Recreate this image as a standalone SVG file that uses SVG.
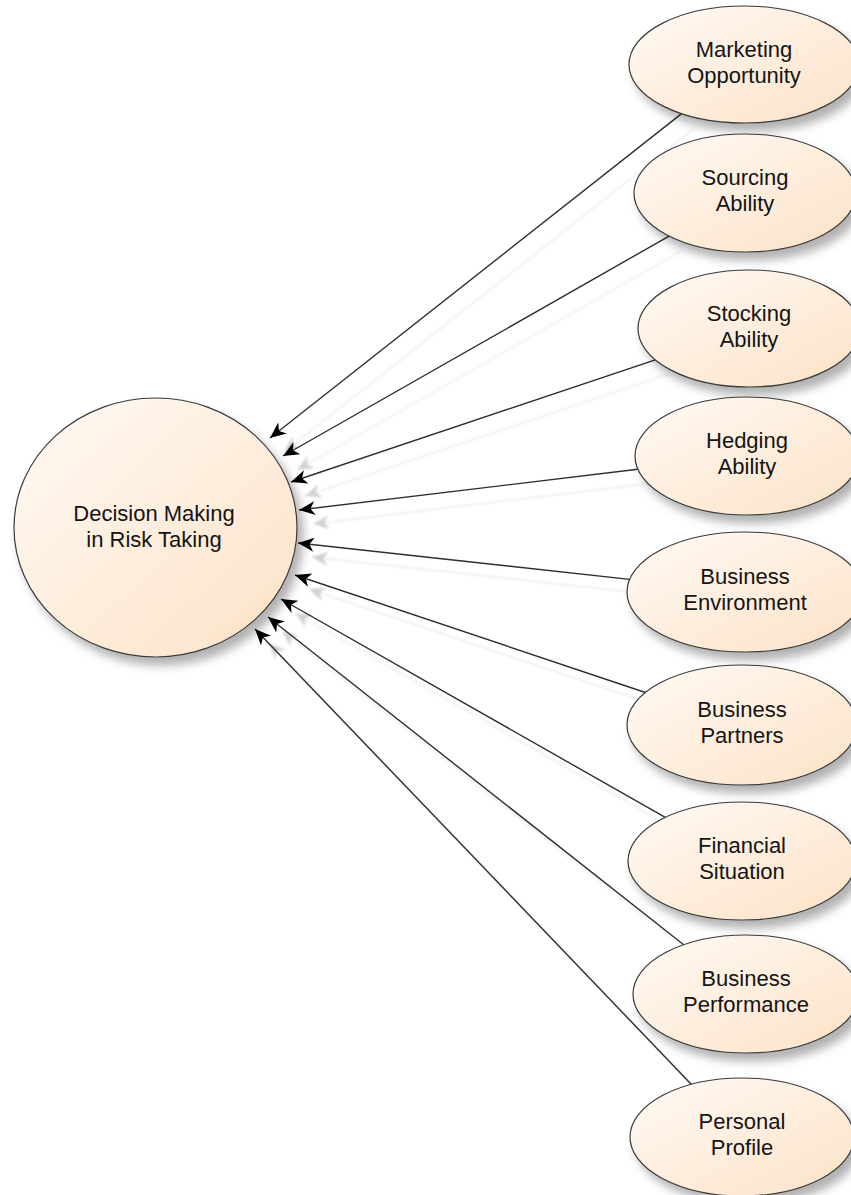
<svg xmlns="http://www.w3.org/2000/svg" width="851" height="1195" viewBox="0 0 851 1195">
  <style>
    .node { fill: url(#nodeFill); stroke: #3a3a3a; stroke-width: 1.2; filter: url(#nodeShadow); }
    .label { font-family: "Liberation Sans", Arial, sans-serif; font-size: 22px; fill: #141414; text-anchor: middle; }
    .edge { stroke: #2e2e2e; stroke-width: 1.4; fill: none; marker-end: url(#arrow); }
    .edge-shadow { stroke: #eaeaea; stroke-width: 1.4; fill: none; marker-end: url(#arrowShadow); }
  </style>
  <defs>
    <linearGradient id="nodeFill" x1="0" y1="0" x2="1" y2="1">
      <stop offset="0" stop-color="#fffaf5"/>
      <stop offset="1" stop-color="#fde2c6"/>
    </linearGradient>
    <filter id="nodeShadow" x="-20%" y="-20%" width="150%" height="150%">
      <feDropShadow dx="6" dy="8" stdDeviation="5" flood-color="#000000" flood-opacity="0.3"/>
    </filter>
    <filter id="soft" x="-10%" y="-10%" width="120%" height="120%">
      <feGaussianBlur stdDeviation="1"/>
    </filter>
    <marker id="arrow" markerUnits="userSpaceOnUse" markerWidth="18" markerHeight="16" viewBox="0 -8 17 16" refX="16" refY="0" orient="auto">
      <path d="M16,0 L0,-7 L4.5,0 L0,7 Z" fill="#000000"/>
    </marker>
    <marker id="arrowShadow" markerUnits="userSpaceOnUse" markerWidth="18" markerHeight="16" viewBox="0 -8 17 16" refX="16" refY="0" orient="auto">
      <path d="M16,0 L0,-7 L4.5,0 L0,7 Z" fill="#d2d2d2"/>
    </marker>
  </defs>

  <!-- connector shadows, drawn under everything -->
  <g id="connector-shadows" transform="translate(14,14)" filter="url(#soft)">
    <line class="edge-shadow" x1="681.6" y1="113.6" x2="270" y2="438"/>
    <line class="edge-shadow" x1="669.1" y1="236.1" x2="283" y2="456"/>
    <line class="edge-shadow" x1="655.3" y1="359.9" x2="291" y2="482"/>
    <line class="edge-shadow" x1="637.8" y1="469.2" x2="299" y2="510"/>
    <line class="edge-shadow" x1="629.6" y1="579.4" x2="298" y2="543"/>
    <line class="edge-shadow" x1="645.4" y1="692.5" x2="295" y2="575"/>
    <line class="edge-shadow" x1="665.3" y1="817.4" x2="281" y2="599"/>
    <line class="edge-shadow" x1="683.7" y1="944.8" x2="268" y2="617"/>
    <line class="edge-shadow" x1="691.4" y1="1084.4" x2="255" y2="629"/>
  </g>

  <!-- connectors: each factor points to the central decision node -->
  <g id="connectors">
    <line class="edge" x1="681.6" y1="113.6" x2="270" y2="438"/>
    <line class="edge" x1="669.1" y1="236.1" x2="283" y2="456"/>
    <line class="edge" x1="655.3" y1="359.9" x2="291" y2="482"/>
    <line class="edge" x1="637.8" y1="469.2" x2="299" y2="510"/>
    <line class="edge" x1="629.6" y1="579.4" x2="298" y2="543"/>
    <line class="edge" x1="645.4" y1="692.5" x2="295" y2="575"/>
    <line class="edge" x1="665.3" y1="817.4" x2="281" y2="599"/>
    <line class="edge" x1="683.7" y1="944.8" x2="268" y2="617"/>
    <line class="edge" x1="691.4" y1="1084.4" x2="255" y2="629"/>
  </g>

  <g id="decision-making">
    <ellipse class="node" cx="155.5" cy="527.5" rx="141.5" ry="129.5"/>
    <text class="label" x="154" y="521">Decision Making</text>
    <text class="label" x="154" y="547">in Risk Taking</text>
  </g>

  <g id="marketing-opportunity">
    <ellipse class="node" cx="744" cy="64.5" rx="115" ry="58.5"/>
    <text class="label" x="744" y="56.5">Marketing</text>
    <text class="label" x="744" y="82.5">Opportunity</text>
  </g>

  <g id="sourcing-ability">
    <ellipse class="node" cx="745" cy="193" rx="111" ry="59"/>
    <text class="label" x="745" y="185">Sourcing</text>
    <text class="label" x="745" y="211">Ability</text>
  </g>

  <g id="stocking-ability">
    <ellipse class="node" cx="749" cy="328.5" rx="111" ry="58.5"/>
    <text class="label" x="749" y="320.5">Stocking</text>
    <text class="label" x="749" y="346.5">Ability</text>
  </g>

  <g id="hedging-ability">
    <ellipse class="node" cx="747" cy="456" rx="112" ry="59"/>
    <text class="label" x="747" y="448">Hedging</text>
    <text class="label" x="747" y="474">Ability</text>
  </g>

  <g id="business-environment">
    <ellipse class="node" cx="745" cy="592" rx="118" ry="60"/>
    <text class="label" x="745" y="584">Business</text>
    <text class="label" x="745" y="610">Environment</text>
  </g>

  <g id="business-partners">
    <ellipse class="node" cx="742" cy="725" rx="115" ry="60"/>
    <text class="label" x="742" y="717">Business</text>
    <text class="label" x="742" y="743">Partners</text>
  </g>

  <g id="financial-situation">
    <ellipse class="node" cx="742" cy="861" rx="114" ry="59"/>
    <text class="label" x="742" y="853">Financial</text>
    <text class="label" x="742" y="879">Situation</text>
  </g>

  <g id="business-performance">
    <ellipse class="node" cx="746" cy="994" rx="113" ry="59"/>
    <text class="label" x="746" y="986">Business</text>
    <text class="label" x="746" y="1012">Performance</text>
  </g>

  <g id="personal-profile">
    <ellipse class="node" cx="742" cy="1137" rx="112" ry="59"/>
    <text class="label" x="742" y="1129">Personal</text>
    <text class="label" x="742" y="1155">Profile</text>
  </g>
</svg>
